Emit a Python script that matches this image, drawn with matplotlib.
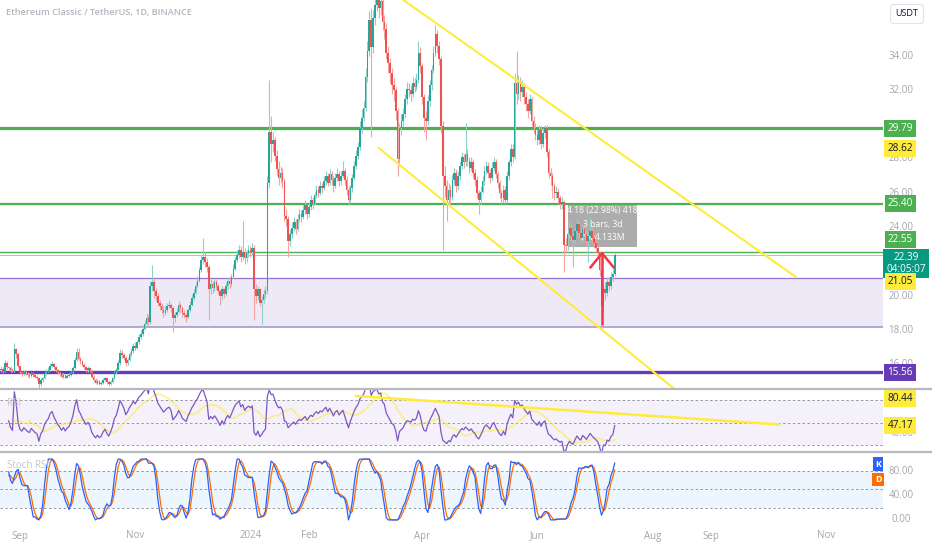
import numpy as np
import pandas as pd
import matplotlib
matplotlib.use("Agg")
import matplotlib.pyplot as plt
import matplotlib.dates as mdates
from matplotlib.lines import Line2D
from matplotlib.patches import Rectangle
from matplotlib.transforms import blended_transform_factory as blend

plt.rcParams["font.family"] = ["Open Sans", "DejaVu Sans"]

# ---- data (ETC/USDT daily) ----
start_date = "2023-08-22"
first_open = 15.70
close = [
    15.75, 15.60, 16.10, 15.85, 15.80, 15.70, 15.65, 16.90, 16.60, 15.90,
    15.55, 15.45, 15.60, 15.50, 15.40, 15.35, 15.50, 15.40, 15.30, 15.25,
    14.85, 15.10, 15.20, 15.45, 15.60, 15.70, 15.95, 16.05, 15.85, 15.70,
    15.55, 15.45, 15.30, 15.40, 15.25, 15.35, 15.40, 15.55, 15.80, 16.30,
    16.75, 16.35, 16.20, 16.00, 15.85, 15.70, 15.80, 15.65, 15.30, 15.10,
    14.95, 15.05, 14.90, 14.95, 15.10, 15.20, 15.00, 14.85, 15.00, 15.20,
    15.55, 15.70, 16.10, 16.70, 16.55, 16.40, 16.10, 16.30, 16.60, 16.80,
    17.10, 17.00, 17.30, 17.60, 17.80, 18.10, 18.40, 18.70, 18.50, 20.60,
    20.80, 20.30, 20.00, 19.60, 19.40, 19.20, 19.00, 19.20, 19.40, 19.50,
    19.30, 18.70, 18.90, 19.10, 19.50, 19.30, 19.00, 18.90, 18.80, 19.20,
    19.50, 19.90, 20.20, 20.60, 20.90, 21.50, 22.10, 22.30, 22.00, 21.70,
    20.40, 20.70, 20.50, 20.80, 20.60, 20.30, 20.00, 20.40, 20.10, 20.60,
    20.90, 20.70, 21.10, 21.60, 22.10, 22.40, 22.70, 22.30, 22.60, 22.20,
    22.50, 22.70, 22.60, 22.80, 20.40, 20.00, 20.40, 19.60, 19.80, 20.10,
    20.30, 26.60, 29.60, 28.90, 29.10, 28.20, 27.40, 26.90, 27.20, 26.70,
    24.70, 24.50, 23.20, 23.60, 24.00, 24.30, 23.90, 24.50, 24.80, 24.60,
    25.00, 25.30, 24.80, 25.20, 25.60, 25.40, 25.90, 26.20, 26.00, 26.40,
    26.30, 26.70, 27.00, 26.60, 27.10, 26.80, 26.40, 26.90, 27.10, 26.70,
    27.00, 27.30, 26.80, 26.20, 25.60, 26.30, 26.90, 27.60, 28.20, 28.70,
    29.80, 30.40, 31.00, 32.80, 34.30, 36.10, 34.50, 36.20, 37.00, 37.40,
    36.80, 37.20, 36.00, 35.60, 34.20, 33.60, 33.00, 32.30, 32.00, 30.80,
    28.00, 29.80, 30.20, 30.60, 31.50, 32.10, 32.00, 31.80, 32.40, 32.20,
    32.60, 34.20, 33.40, 31.60, 30.40, 30.20, 31.40, 32.30, 33.20, 34.20,
    35.30, 34.60, 33.80, 29.90, 27.00, 26.40, 25.60, 26.20, 25.80, 26.80,
    27.20, 26.40, 27.00, 27.60, 28.10, 27.80, 28.30, 27.90, 27.50, 27.80,
    27.20, 26.80, 26.00, 25.60, 26.10, 26.70, 27.30, 27.60, 27.20, 26.90,
    27.50, 27.80, 27.10, 26.60, 26.00, 25.70, 26.20, 25.60, 27.00, 27.80,
    28.60, 28.10, 32.40, 31.80, 32.50, 31.90, 32.20, 31.60, 31.20, 30.80,
    31.50, 30.20, 29.80, 29.40, 29.10, 29.70, 28.90, 29.50, 29.80, 28.40,
    27.20, 27.00, 26.40, 26.00, 26.10, 25.70, 25.40, 25.50, 23.00, 22.90,
    23.60, 24.00, 23.50, 23.30, 23.80, 24.20, 23.70, 23.40, 23.90, 23.60,
    23.20, 23.50, 23.80, 23.40, 23.10, 22.80, 22.50, 21.50, 19.40, 20.40,
    20.20, 20.80, 20.60, 21.10, 21.30, 22.39,
]
high = [
    15.90, 15.85, 16.27, 16.20, 15.95, 15.90, 15.80, 17.26, 17.00, 16.70,
    15.95, 15.65, 15.70, 15.65, 15.55, 15.50, 15.60, 15.55, 15.45, 15.40,
    15.30, 15.20, 15.30, 15.55, 15.75, 15.85, 16.10, 16.20, 16.10, 15.90,
    15.75, 15.60, 15.50, 15.50, 15.45, 15.45, 15.50, 15.65, 15.90, 16.45,
    16.95, 17.00, 16.45, 16.30, 16.10, 15.95, 15.90, 15.85, 15.70, 15.40,
    15.20, 15.15, 15.10, 15.05, 15.20, 15.30, 15.25, 15.10, 15.10, 15.30,
    15.65, 15.80, 16.25, 16.90, 16.85, 16.70, 16.50, 16.45, 16.75, 16.95,
    17.25, 17.30, 17.45, 17.80, 18.00, 18.30, 18.60, 19.00, 18.90, 20.90,
    21.80, 21.00, 20.50, 20.20, 19.80, 19.60, 19.40, 19.40, 19.60, 19.75,
    19.60, 19.40, 19.10, 19.30, 19.70, 19.60, 19.40, 19.20, 19.00, 19.30,
    19.70, 20.10, 20.40, 20.80, 21.20, 21.70, 22.40, 23.40, 22.60, 22.20,
    21.80, 21.00, 20.90, 21.00, 21.00, 20.70, 20.40, 20.60, 20.50, 20.80,
    21.10, 21.10, 21.30, 21.90, 22.30, 22.70, 23.00, 22.90, 24.40, 22.80,
    22.70, 23.00, 22.90, 23.10, 23.00, 20.70, 20.60, 20.50, 20.00, 20.40,
    20.60, 27.00, 32.60, 30.50, 29.60, 29.30, 28.50, 27.90, 27.60, 27.50,
    26.90, 25.10, 24.70, 23.90, 24.30, 24.60, 24.50, 24.80, 25.10, 25.00,
    25.30, 25.60, 25.40, 25.50, 25.90, 25.80, 26.10, 26.50, 26.40, 26.70,
    26.60, 27.00, 27.30, 27.20, 27.40, 27.30, 27.00, 27.20, 27.50, 27.30,
    27.30, 27.90, 27.50, 27.00, 26.40, 26.50, 27.10, 27.90, 28.50, 29.00,
    30.20, 30.90, 31.40, 33.30, 34.90, 36.60, 36.80, 36.70, 38.00, 38.20,
    37.90, 37.80, 37.50, 36.40, 35.90, 34.60, 33.90, 33.30, 32.70, 32.20,
    31.00, 30.10, 30.60, 31.00, 31.80, 32.50, 32.40, 32.30, 32.80, 32.70,
    33.00, 34.90, 34.50, 33.60, 31.80, 30.80, 31.70, 32.60, 33.50, 34.60,
    35.80, 35.50, 34.90, 34.00, 30.20, 27.60, 26.80, 26.60, 26.50, 27.10,
    27.50, 27.40, 27.30, 27.90, 28.40, 28.30, 30.10, 28.60, 28.10, 28.10,
    28.00, 27.40, 27.00, 26.20, 26.40, 27.00, 27.60, 27.90, 27.80, 27.40,
    27.80, 28.10, 28.00, 27.30, 26.80, 26.20, 26.50, 26.40, 27.30, 28.00,
    28.90, 28.90, 33.00, 34.30, 32.90, 32.80, 32.60, 32.40, 31.90, 31.50,
    31.80, 31.60, 30.50, 30.10, 29.70, 30.00, 29.90, 29.80, 30.00, 30.00,
    28.60, 27.50, 27.20, 26.60, 26.40, 26.30, 25.90, 25.80, 25.60, 23.40,
    23.90, 24.40, 24.20, 23.70, 24.00, 24.50, 24.40, 23.90, 24.10, 24.20,
    23.80, 23.70, 24.60, 24.00, 23.60, 23.30, 23.00, 22.60, 21.60, 20.70,
    20.80, 21.10, 21.10, 21.40, 21.60, 22.50,
]
low = [
    15.55, 15.50, 15.55, 15.75, 15.70, 15.60, 15.55, 15.60, 16.40, 15.80,
    15.45, 15.35, 15.40, 15.40, 15.30, 15.25, 15.30, 15.30, 15.20, 15.10,
    14.60, 14.75, 15.00, 15.15, 15.40, 15.55, 15.65, 15.85, 15.75, 15.60,
    15.45, 15.35, 15.20, 15.25, 15.15, 15.20, 15.30, 15.35, 15.50, 15.75,
    16.20, 16.25, 16.05, 15.90, 15.75, 15.60, 15.60, 15.55, 15.20, 15.00,
    14.85, 14.85, 14.80, 14.80, 14.90, 15.00, 14.90, 14.75, 14.80, 14.95,
    15.15, 15.45, 15.65, 16.00, 16.40, 16.25, 15.95, 16.00, 16.20, 16.50,
    16.70, 16.85, 16.90, 17.20, 17.50, 17.70, 18.00, 18.30, 18.30, 18.40,
    20.30, 19.90, 19.70, 19.40, 19.20, 19.00, 18.80, 18.90, 19.10, 19.30,
    19.10, 17.90, 18.50, 18.80, 19.00, 19.10, 18.80, 18.70, 18.50, 18.70,
    19.10, 19.40, 19.80, 20.10, 20.50, 20.80, 21.40, 21.90, 21.70, 21.40,
    18.60, 20.10, 20.20, 20.30, 20.40, 20.10, 19.50, 19.80, 19.90, 20.00,
    20.40, 20.50, 20.60, 21.00, 21.50, 22.00, 22.20, 22.00, 22.10, 21.90,
    22.00, 22.30, 22.30, 22.40, 18.60, 19.60, 19.80, 19.40, 18.40, 19.60,
    19.90, 20.10, 26.30, 27.80, 28.40, 27.90, 27.00, 26.50, 26.60, 26.30,
    24.40, 24.10, 22.30, 22.90, 23.40, 23.80, 23.60, 23.80, 24.30, 24.30,
    24.50, 24.80, 24.50, 24.60, 25.00, 25.10, 25.30, 25.70, 25.80, 25.90,
    26.00, 26.20, 26.50, 26.40, 26.50, 26.50, 26.10, 26.30, 26.70, 26.40,
    26.50, 26.90, 26.50, 25.90, 25.30, 25.50, 26.10, 26.80, 27.40, 28.00,
    28.50, 29.50, 30.20, 30.80, 32.50, 34.00, 29.30, 34.20, 35.80, 36.60,
    36.20, 36.40, 35.50, 35.00, 33.80, 33.00, 32.40, 31.80, 31.40, 30.30,
    27.00, 27.60, 29.40, 29.90, 30.40, 31.20, 31.60, 31.40, 31.60, 31.90,
    32.00, 32.40, 33.00, 31.20, 29.60, 29.10, 30.00, 31.10, 32.00, 33.00,
    34.00, 34.20, 33.50, 29.50, 22.70, 25.80, 24.40, 25.30, 25.40, 25.60,
    26.50, 26.10, 26.20, 26.80, 27.40, 27.50, 27.60, 27.60, 27.20, 27.30,
    26.90, 26.40, 25.70, 24.80, 25.40, 26.00, 26.50, 27.10, 26.90, 26.60,
    26.80, 27.30, 26.90, 26.30, 25.70, 25.40, 25.50, 25.40, 25.50, 26.80,
    27.60, 27.80, 28.00, 31.20, 31.50, 31.40, 31.60, 31.20, 30.80, 30.40,
    30.60, 29.90, 29.50, 29.10, 28.80, 28.90, 28.60, 28.70, 29.20, 28.10,
    26.90, 26.50, 25.70, 25.60, 25.70, 25.40, 25.10, 25.10, 21.40, 22.50,
    22.70, 23.40, 23.20, 21.70, 23.10, 23.60, 23.40, 23.10, 23.20, 23.30,
    22.90, 22.00, 23.30, 23.10, 22.80, 22.50, 22.20, 21.20, 18.15, 19.10,
    19.80, 20.00, 20.30, 20.40, 20.90, 21.20,
]

green_levels = [29.79, 25.40, 22.55]
zone_low, zone_high = 18.20, 21.05
purple_level = 15.56
last_price = 22.39
price_ticks = [16, 18, 20, 24, 26, 28, 32, 34]

upper_channel_dates = ["2024-03-22", "2024-10-16"]
upper_channel_prices = [37.27, 21.11]
lower_channel_dates = ["2024-03-09", "2024-08-12"]
lower_channel_prices = [28.64, 14.64]
rsi_trend_dates = ["2024-02-26", "2024-10-07"]
rsi_trend_values = [74.0, 48.5]

measure_dates = ["2024-06-17", "2024-07-24"]
measure_prices = [22.86, 25.31]
measure_lines = ["4.18 (22.98%) 418", "3 bars, 3d", "Vol 4.133M"]
arrow_date = "2024-07-05 07:00"
arrow_from, arrow_to = 18.30, 22.50

xtick_dates = ["2023-09-01", "2023-11-01", "2024-01-01", "2024-02-01", "2024-04-01",
               "2024-06-01", "2024-08-01", "2024-09-01", "2024-11-01"]
xtick_labels = ["Sep", "Nov", "2024", "Feb", "Apr", "Jun", "Aug", "Sep", "Nov"]

# ---- figure ----
W, H = 932, 550
fig = plt.figure(figsize=(W / 100, H / 100), dpi=100)
fig.patch.set_facecolor("white")


def px_axes(x0, y0, x1, y1):
    a = fig.add_axes([x0 / W, 1 - y1 / H, (x1 - x0) / W, (y1 - y0) / H])
    a.set_axis_off()
    return a


ax = px_axes(0, 0, 883, 388)
ax_rsi = px_axes(0, 390, 883, 451)
ax_st = px_axes(0, 453, 883, 528)

sep1 = mdates.date2num(pd.Timestamp("2023-09-01"))
for a in (ax, ax_rsi, ax_st):
    a.set_xlim(sep1 - 10.6, sep1 + 457.1)
ax.set_ylim(14.64, 37.27)
ax_rsi.set_ylim(24.7, 79.4)
ax_st.set_ylim(-13.3, 110)

c = np.array(close)
hi = np.array(high)
lo = np.array(low)
o = np.r_[first_open, c[:-1]]
hi = np.maximum(hi, np.maximum(o, c))
lo = np.minimum(lo, np.minimum(o, c))
x = mdates.date2num(pd.date_range(start_date, periods=len(c), freq="D"))
d = lambda s: mdates.date2num(pd.Timestamp(s))

UP, DN = "#26a69a", "#ef5350"
up = c >= o

# levels
for lvl, lw in zip(green_levels, [2.3, 1.6, 1.0]):
    ax.axhline(lvl, color="#4caf50", lw=lw, zorder=1)
ax.axhline(last_price, color="#089981", lw=0.7, alpha=0.45, zorder=1)
ax.axhspan(zone_low, zone_high, fc="#7e57c2", alpha=0.13, lw=0, zorder=0.5)
ax.axhline(zone_high, color="#9575cd", lw=0.9, zorder=1)
ax.axhline(zone_low, color="#9e93c4", lw=1.1, zorder=1)
ax.axhline(purple_level, color="#673ab7", lw=2.4, zorder=1)

ax.plot([d(s) for s in upper_channel_dates], upper_channel_prices, color="#ffeb3b", lw=1.5, zorder=4)
ax.plot([d(s) for s in lower_channel_dates], lower_channel_prices, color="#ffeb3b", lw=1.5, zorder=4)

# measure box
m0, m1 = d(measure_dates[0]), d(measure_dates[1])
ax.add_patch(Rectangle((m0, measure_prices[0]), m1 - m0, measure_prices[1] - measure_prices[0],
                       fc="#9e9e9e", alpha=0.85, lw=0, zorder=2))
for txt, yy in zip(measure_lines, [25.02, 24.20, 23.39]):
    ax.text((m0 + m1) / 2, yy, txt, color="white", fontsize=6.2, ha="center", va="center", zorder=2.5)

# candles
ax.vlines(x, lo, hi, colors=np.where(up, "#8fd0c9", "#f5a3a2"), lw=0.8, zorder=3)
ax.bar(x, np.maximum(np.abs(c - o), 0.05), bottom=np.minimum(o, c), width=0.85,
       color=np.where(up, UP, DN), lw=0, zorder=3.2)

# red arrow
xa = d(arrow_date)
ax.plot([xa, xa], [arrow_from, arrow_to], color="#f23645", lw=1.8, zorder=5, solid_capstyle="butt")
ax.plot([xa - 6.1, xa, xa + 6.1], [arrow_to - 0.82, arrow_to, arrow_to - 0.82],
        color="#f23645", lw=1.8, zorder=5)

# ---- RSI (14) with 14 SMA ----
s = pd.Series(c)
diff = s.diff()
gain = diff.clip(lower=0).ewm(alpha=1 / 14, adjust=True).mean()
loss = (-diff.clip(upper=0)).ewm(alpha=1 / 14, adjust=True).mean()
rsi = 100 - 100 / (1 + gain / loss)
rsi_ma = rsi.rolling(14, min_periods=1).mean()
warm = 4

ax_rsi.axhspan(30, 70, fc="#7e57c2", alpha=0.08, lw=0)
for v in (70, 50, 30):
    ax_rsi.axhline(v, color="#9598a1", lw=0.7, ls=(0, (2.5, 2.5)))
ax_rsi.plot(x[warm:], rsi_ma[warm:], color="#ffeb3b", lw=1.2, alpha=0.6)
ax_rsi.plot(x[warm:], rsi[warm:], color="#7e57c2", lw=0.9)
ax_rsi.plot([d(s_) for s_ in rsi_trend_dates], rsi_trend_values, color="#ffeb3b", lw=1.8, zorder=4)

# ---- Stoch RSI (14, 14, 3, 3) ----
rlo = rsi.rolling(14, min_periods=1).min()
rhi = rsi.rolling(14, min_periods=1).max()
stoch = (100 * (rsi - rlo) / (rhi - rlo)).fillna(50)
k = stoch.rolling(3, min_periods=1).mean()
dd = k.rolling(3, min_periods=1).mean()
ax_st.axhspan(20, 80, fc="#2196f3", alpha=0.08, lw=0)
for v in (80, 50, 20):
    ax_st.axhline(v, color="#9598a1", lw=0.7, ls=(0, (2.5, 2.5)))
ax_st.plot(x[warm:], dd[warm:], color="#ff6d00", lw=0.9)
ax_st.plot(x[warm:], k[warm:], color="#2962ff", lw=0.9)

# ---- text ----
fig.text(6 / W, 1 - 13 / H, "Ethereum Classic / TetherUS, 1D, BINANCE", fontsize=6.6,
         color="#b2b5be", fontweight="semibold", va="center")
fig.text(7 / W, 1 - 403 / H, "RSI", fontsize=7, color="#c3c5cc", va="center")
fig.text(7 / W, 1 - 466 / H, "Stoch RSI", fontsize=7, color="#c3c5cc", va="center")
fig.text(907 / W, 1 - 14 / H, "USDT", ha="center", va="center", fontsize=6.5, color="#131722",
         bbox=dict(boxstyle="round,pad=0.55,rounding_size=0.3", fc="white", ec="#e0e3eb", lw=0.8))

for yy in (389, 452):
    fig.add_artist(Line2D([0, 1], [1 - yy / H] * 2, color="#b8b9bf", lw=1.6))

GRAY = "#a3a6af"
tr = blend(ax.transAxes, ax.transData)
for v in price_ticks:
    ax.text(901 / 883, v, f"{v:.2f}", transform=tr, fontsize=7, color=GRAY,
            ha="center", va="center", clip_on=False)
ax_rsi.text(901 / 883, 40, "40.00", transform=blend(ax_rsi.transAxes, ax_rsi.transData),
            fontsize=7, color=GRAY, ha="center", va="center", clip_on=False)
for v in (80, 40, 0):
    ax_st.text(901 / 883, v, f"{v:.2f}", transform=blend(ax_st.transAxes, ax_st.transData),
               fontsize=7, color=GRAY, ha="center", va="center", clip_on=False)

xt = blend(ax_st.transData, fig.transFigure)
for ds, lab in zip(xtick_dates, xtick_labels):
    ax_st.text(d(ds), 1 - 536 / H, lab, transform=xt, fontsize=7, color=GRAY,
               ha="center", va="center", clip_on=False)


def tag(a, y, text, fc, tc="white", dx=12.4, dy=0, fs=7.2):
    a.annotate(text, xy=(1.0, y), xycoords=("axes fraction", "data"), xytext=(dx, dy),
               textcoords="offset points", ha="center", va="center", fontsize=fs, color=tc,
               bbox=dict(boxstyle="square,pad=0.3", fc=fc, ec="none"),
               annotation_clip=False, zorder=10, linespacing=1.05)


tag(ax, green_levels[0], f"{green_levels[0]:.2f}", "#4caf50")
tag(ax, 28.62, "28.62", "#ffeb3b", "#131722")
tag(ax, green_levels[1], f"{green_levels[1]:.2f}", "#4caf50")
tag(ax, green_levels[2], f"{green_levels[2]:.2f}", "#4caf50", dy=9)
tag(ax, last_price, f"{last_price:.2f}\n04:05:07", "#089981", dx=16.5, dy=-6)
tag(ax, zone_high, f"{zone_high:.2f}", "#ffeb3b", "#131722", dy=-2.5)
tag(ax, purple_level, f"{purple_level:.2f}", "#673ab7")
tag(ax_rsi, 71.5, "80.44", "#ffeb3b", "#131722")
tag(ax_rsi, 47.17, "47.17", "#ffeb3b", "#131722")
ax_st.text(878 / 883, 91.7, "K", transform=blend(ax_st.transAxes, ax_st.transData), fontsize=6.5,
           color="white", ha="center", va="center", fontweight="bold",
           bbox=dict(boxstyle="square,pad=0.25", fc="#2962ff", ec="none"), zorder=10)
ax_st.text(878 / 883, 66.7, "D", transform=blend(ax_st.transAxes, ax_st.transData), fontsize=6.5,
           color="white", ha="center", va="center", fontweight="bold",
           bbox=dict(boxstyle="square,pad=0.25", fc="#ff6d00", ec="none"), zorder=10)

fig.savefig("out.png", dpi=100, facecolor="white")
